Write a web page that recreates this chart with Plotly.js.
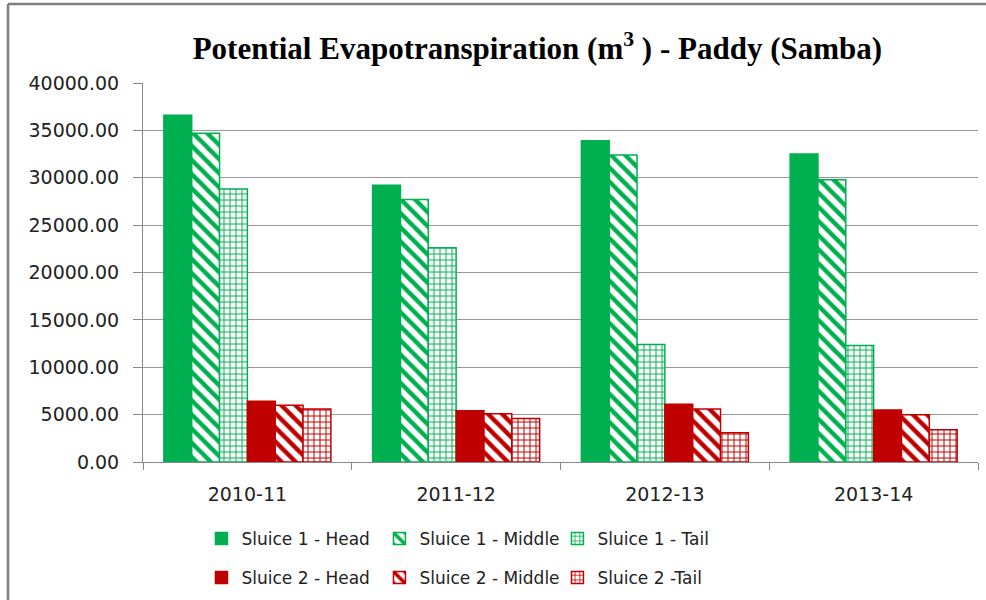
<!DOCTYPE html>
<html>
<head>
<meta charset="utf-8">
<script src="https://cdn.plot.ly/plotly-3.0.1.min.js"></script>
<style>
html,body{margin:0;padding:0;background:#fff;}
#chart{width:986px;height:600px;}
</style>
</head>
<body>
<div id="chart"></div>
<script>
const years = ["2010-11", "2011-12", "2012-13", "2013-14"];
const s1Head = [36600, 29200, 33900, 32500];
const s1Middle = [34700, 27700, 32400, 29800];
const s1Tail = [28800, 22600, 12400, 12300];
const s2Head = [6400, 5400, 6100, 5500];
const s2Middle = [6000, 5100, 5600, 5000];
const s2Tail = [5600, 4600, 3100, 3400];
const seriesNames = ["Sluice 1 - Head", "Sluice 1 - Middle", "Sluice 1 - Tail",
                     "Sluice 2 - Head", "Sluice 2 - Middle", "Sluice 2 -Tail"];

const GREEN = "#00B050";
const RED = "#C00000";

function bar(name, y, color, kind, legend) {
  const marker = {color: color, line: {color: color, width: 1.5}};
  if (kind === "diag") {
    marker.color = "#ffffff";
    marker.pattern = {shape: "\\", fgcolor: color, bgcolor: "#ffffff", size: 10, solidity: 0.45, fillmode: "replace"};
  } else if (kind === "brick") {
    marker.color = "#ffffff";
    marker.pattern = {shape: "+", fgcolor: color, bgcolor: "#ffffff", size: 6, solidity: 0.3, fillmode: "replace"};
  }
  return {type: "bar", name: name, x: years, y: y, marker: marker, legend: legend,
          hoverinfo: "skip"};
}

const data = [
  bar(seriesNames[0], s1Head, GREEN, "solid", "legend"),
  bar(seriesNames[1], s1Middle, GREEN, "diag", "legend"),
  bar(seriesNames[2], s1Tail, GREEN, "brick", "legend"),
  bar(seriesNames[3], s2Head, RED, "solid", "legend2"),
  bar(seriesNames[4], s2Middle, RED, "diag", "legend2"),
  bar(seriesNames[5], s2Tail, RED, "brick", "legend2")
];

const tickFont = {family: "DejaVu Sans", size: 19, color: "#222"};
const legendFont = {family: "DejaVu Sans", size: 17, color: "#222"};

const layout = {
  width: 986, height: 600,
  margin: {l: 143, r: 8, t: 83, b: 138, autoexpand: false},
  paper_bgcolor: "#ffffff", plot_bgcolor: "#ffffff",
  barmode: "group", bargap: 0.2, bargroupgap: 0,
  title: {text: "Potential Evapotranspiration (m<sup>3</sup> ) - Paddy (Samba)",
          font: {family: "Liberation Serif", size: 31, color: "#000", weight: "bold"},
          x: 0.545, xanchor: "center", y: 0.92, yanchor: "middle"},
  xaxis: {type: "category", showgrid: false, showline: true, linecolor: "#888", linewidth: 1,
          ticks: "outside", tickson: "boundaries", ticklen: 7, tickcolor: "#888",
          tickfont: tickFont, ticklabelstandoff: 15, fixedrange: true, automargin: false},
  yaxis: {range: [0, 40000], dtick: 5000, tickformat: ".2f", showgrid: true,
          gridcolor: "#999", gridwidth: 1, showline: true, linecolor: "#888", linewidth: 1,
          ticks: "outside", ticklen: 9, tickcolor: "#888", tickfont: tickFont,
          ticklabelstandoff: 10, zeroline: false, fixedrange: true, automargin: false},
  legend: {orientation: "h", x: 0.07, xanchor: "left", y: -0.2032, yanchor: "middle",
           entrywidth: 133, entrywidthmode: "pixels", font: legendFont, traceorder: "normal",
           bgcolor: "rgba(0,0,0,0)", itemclick: false, itemdoubleclick: false},
  legend2: {orientation: "h", x: 0.07, xanchor: "left", y: -0.3061, yanchor: "middle",
            entrywidth: 133, entrywidthmode: "pixels", font: legendFont, traceorder: "normal",
            bgcolor: "rgba(0,0,0,0)", itemclick: false, itemdoubleclick: false},
  showlegend: true,
  shapes: [
    {type: "line", xref: "paper", yref: "paper", x0: (8 - 143) / 835, x1: (8 - 143) / 835,
     y0: (462 - 4) / 379, y1: (462 - 620) / 379, line: {color: "#7f7f7f", width: 2.5}},
    {type: "line", xref: "paper", yref: "paper", x0: (8 - 143) / 835, x1: (1000 - 143) / 835,
     y0: (462 - 4) / 379, y1: (462 - 4) / 379, line: {color: "#7f7f7f", width: 2.5}}
  ]
};

Plotly.newPlot("chart", data, layout, {displayModeBar: false, staticPlot: true});
</script>
</body>
</html>
